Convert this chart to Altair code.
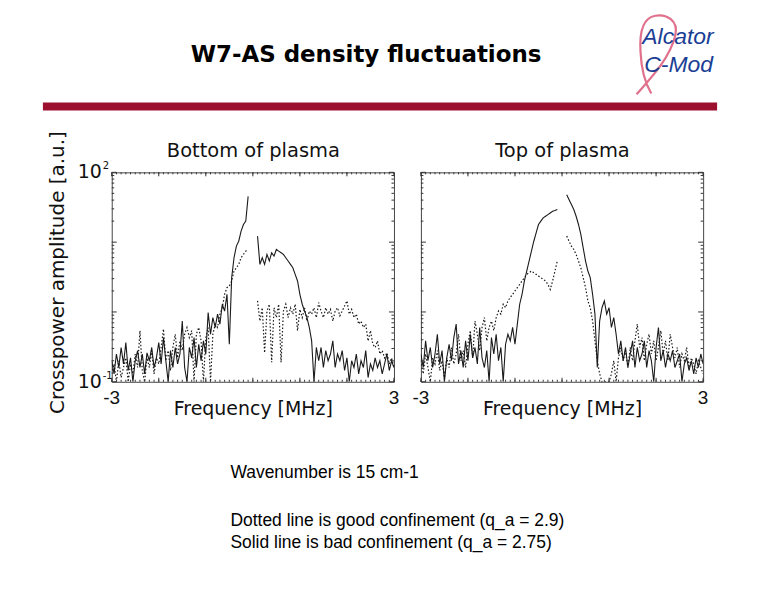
import altair as alt
import pandas as pd

# ---- data (amplitude, a.u.) ----
# frequency grid: -3 .. 3 MHz in 0.05 MHz steps, the central gap (|f| < 0.1) has no data
freq_neg = [round(-3 + 0.05 * i, 2) for i in range(59)]        # -3.00 .. -0.10
freq_pos = [round(0.1 + 0.05 * i, 2) for i in range(59)]       #  0.10 ..  3.00

# Bottom of plasma, solid line (bad confinement)
bottom_solid_neg = [
    0.20, 0.13, 0.25, 0.16, 0.31, 0.18, 0.365, 0.145, 0.22, 0.10,
    0.20, 0.28, 0.16, 0.25, 0.13, 0.26, 0.20, 0.31, 0.16, 0.22,
    0.365, 0.18, 0.43, 0.20, 0.10, 0.28, 0.16, 0.31, 0.18, 0.25,
    0.74, 0.16, 0.10, 0.31, 0.22, 0.43, 0.16, 0.345, 0.20, 0.385,
    0.25, 0.98, 0.48, 0.83, 0.60, 0.93, 0.67, 1.29, 1.03, 1.79,
    0.345, 3.1, 5.98, 8.77, 10.3, 14.4, 17.9, 20.0, 45.3]
bottom_solid_pos = [
    12.2, 4.8, 5.98, 4.8, 6.67, 5.36, 7.04, 6.31, 7.86, 7.44,
    7.04, 6.67, 5.98, 5.36, 4.8, 4.3, 3.46, 2.78, 1.79, 1.29,
    1.03, 0.83, 0.60, 0.385, 0.10, 0.31, 0.20, 0.31, 0.16, 0.28,
    0.20, 0.25, 0.385, 0.16, 0.25, 0.20, 0.28, 0.145, 0.22, 0.10,
    0.20, 0.16, 0.25, 0.13, 0.20, 0.16, 0.28, 0.115, 0.18, 0.145,
    0.22, 0.16, 0.20, 0.13, 0.18, 0.25, 0.145, 0.20, 0.16]

# Bottom of plasma, dotted line (good confinement)
bottom_dotted_neg = [
    0.13, 0.18, 0.10, 0.20, 0.115, 0.16, 0.22, 0.10, 0.18, 0.13,
    0.25, 0.16, 0.54, 0.145, 0.10, 0.22, 0.16, 0.28, 0.13, 0.22,
    0.18, 0.31, 0.57, 0.20, 0.28, 0.145, 0.31, 0.48, 0.22, 0.385,
    0.28, 0.48, 0.60, 0.43, 0.54, 0.10, 0.48, 0.60, 0.385, 0.10,
    0.43, 0.60, 0.10, 0.48, 0.67, 0.60, 0.93, 1.15, 1.79, 2.23,
    2.35, 2.78, 3.86, 4.3, 4.8, 5.98, 6.67, 7.44, 7.86]
bottom_dotted_pos = [
    1.44, 0.74, 1.15, 0.26, 1.03, 1.29, 0.19, 1.15, 0.83, 1.29,
    0.19, 1.03, 1.29, 0.83, 1.15, 0.93, 1.29, 0.54, 1.09, 0.83,
    1.15, 0.74, 1.03, 0.93, 1.15, 0.83, 1.36, 1.03, 0.83, 1.15,
    0.93, 1.09, 0.74, 1.03, 1.15, 0.88, 1.03, 1.22, 1.44, 0.93,
    1.09, 0.83, 0.93, 0.67, 0.74, 0.60, 0.67, 0.385, 0.54, 0.345,
    0.31, 0.385, 0.25, 0.28, 0.22, 0.26, 0.18, 0.22, 0.16]

# Top of plasma, solid line (bad confinement)
top_solid_neg = [
    0.25, 0.16, 0.385, 0.20, 0.31, 0.16, 0.25, 0.48, 0.18, 0.28,
    0.10, 0.22, 0.345, 0.20, 0.43, 0.67, 0.18, 0.28, 0.16, 0.385,
    0.20, 0.48, 0.22, 0.31, 0.18, 0.60, 0.22, 0.16, 0.28, 0.10,
    0.43, 0.25, 0.48, 0.20, 0.31, 0.10, 0.345, 0.48, 0.385, 0.60,
    0.345, 0.67, 1.29, 1.79, 2.78, 3.86, 5.36, 7.44, 10.3, 13.6,
    17.9, 20.0, 22.3, 23.5, 24.8, 26.2, 27.7, 28.3, 29.3]
top_solid_pos = [
    47.9, 40.6, 34.5, 29.3, 23.5, 17.9, 12.9, 8.3, 5.36, 3.86,
    3.1, 1.79, 0.93, 0.16, 0.74, 1.15, 1.44, 0.93, 1.15, 0.60,
    0.83, 0.48, 0.25, 0.385, 0.20, 0.31, 0.16, 0.25, 0.385, 0.16,
    0.31, 0.20, 0.25, 0.385, 0.16, 0.28, 0.20, 0.10, 0.31, 0.60,
    0.20, 0.28, 0.16, 0.25, 0.20, 0.28, 0.16, 0.20, 0.25, 0.10,
    0.18, 0.22, 0.145, 0.20, 0.13, 0.22, 0.16, 0.25, 0.18]

# Top of plasma, dotted line (good confinement)
top_dotted_neg = [
    0.20, 0.13, 0.25, 0.16, 0.10, 0.22, 0.18, 0.28, 0.145, 0.20,
    0.115, 0.22, 0.16, 0.31, 0.18, 0.25, 0.48, 0.20, 0.28, 0.16,
    0.345, 0.54, 0.22, 0.74, 0.48, 0.28, 0.60, 0.83, 0.385, 0.60,
    0.74, 0.54, 0.83, 1.03, 0.93, 1.29, 1.15, 1.44, 1.61, 1.79,
    2.0, 2.23, 2.49, 2.78, 3.1, 3.46, 3.65, 3.86, 3.65, 3.46,
    3.28, 3.1, 2.93, 2.78, 2.49, 2.1, 2.78, 3.86, 5.36]
top_dotted_pos = [
    12.2, 10.3, 8.77, 7.86, 6.67, 5.36, 4.3, 3.1, 2.23, 1.44,
    1.15, 0.74, 0.385, 0.20, 0.13, 0.10, 0.10, 0.10, 0.10, 0.13,
    0.20, 0.10, 0.22, 0.31, 0.20, 0.28, 0.16, 0.31, 0.20, 0.385,
    0.67, 0.31, 0.43, 0.20, 0.345, 0.48, 0.25, 0.385, 0.20, 0.31,
    0.54, 0.25, 0.385, 0.20, 0.48, 0.31, 0.22, 0.31, 0.16, 0.25,
    0.20, 0.31, 0.16, 0.22, 0.18, 0.13, 0.20, 0.16, 0.13]

# axis ticks / labels
x_major = [-3, -2, -1, 0, 1, 2, 3]
x_minor = [round(-3 + 0.1 * i, 1) for i in range(61)]
x_labels = [-3, 3]
x_label_text = ["-3", "3"]
y_major = [0.1, 1, 10, 100]
y_minor = [m * d for d in (0.1, 1, 10) for m in (2, 3, 4, 5, 6, 7, 8, 9)]
y_labels = [0.1, 100]
y_label_base = ["10", "10"]
y_label_exp = ["-1", "2"]


def frame(panel):
    rows = []
    series = {
        "Bottom": [("solid", bottom_solid_neg, bottom_solid_pos),
                   ("dotted", bottom_dotted_neg, bottom_dotted_pos)],
        "Top": [("solid", top_solid_neg, top_solid_pos),
                ("dotted", top_dotted_neg, top_dotted_pos)],
    }[panel]
    for name, neg, pos in series:
        for f, a in zip(freq_neg, neg):
            rows.append({"f": f, "amp": a, "style": name, "part": name + "-neg"})
        for f, a in zip(freq_pos, pos):
            rows.append({"f": f, "amp": a, "style": name, "part": name + "-pos"})
    return pd.DataFrame(rows)


W, H = 283, 210
XS = alt.Scale(domain=[-3, 3], nice=False, zero=False)
YS = alt.Scale(type="log", domain=[0.1, 100], nice=False)
INK = "#1a1a1a"
PANEL_FONT = "DejaVu Sans"


def X(field):
    return alt.X(field, type="quantitative", scale=XS, axis=None)


def Y(field):
    return alt.Y(field, type="quantitative", scale=YS, axis=None)


def one_text(text, x, y, **kw):
    return alt.Chart(pd.DataFrame({"t": [text]})).mark_text(**kw).encode(
        text="t:N", x=alt.value(x), y=alt.value(y))


def panel(name, title, with_y):
    df = frame(name)
    base = alt.Chart(df)
    solid = base.transform_filter("datum.style == 'solid'").mark_line(
        color=INK, strokeWidth=1.1, clip=True).encode(
        x=X("f"), y=Y("amp"), detail="part:N")
    dotted = base.transform_filter("datum.style == 'dotted'").mark_line(
        color=INK, strokeWidth=1.2, strokeDash=[1.5, 2], clip=True).encode(
        x=X("f"), y=Y("amp"), detail="part:N")

    tick_col = "#333"
    ymaj = alt.Chart(pd.DataFrame({"v": y_major}))
    ymin = alt.Chart(pd.DataFrame({"v": y_minor}))
    xmaj = alt.Chart(pd.DataFrame({"v": x_major}))
    xmin = alt.Chart(pd.DataFrame({"v": x_minor}))
    ticks = [
        ymaj.mark_rule(color=tick_col).encode(y=Y("v"), x=alt.value(0), x2=alt.value(5)),
        ymaj.mark_rule(color=tick_col).encode(y=Y("v"), x=alt.value(W - 5), x2=alt.value(W)),
        ymin.mark_rule(color=tick_col).encode(y=Y("v"), x=alt.value(0), x2=alt.value(2.5)),
        ymin.mark_rule(color=tick_col).encode(y=Y("v"), x=alt.value(W - 2.5), x2=alt.value(W)),
        xmaj.mark_rule(color=tick_col).encode(x=X("v"), y=alt.value(0), y2=alt.value(4)),
        xmaj.mark_rule(color=tick_col).encode(x=X("v"), y=alt.value(H - 4), y2=alt.value(H)),
        xmin.mark_rule(color=tick_col).encode(x=X("v"), y=alt.value(0), y2=alt.value(2)),
        xmin.mark_rule(color=tick_col).encode(x=X("v"), y=alt.value(H - 2), y2=alt.value(H)),
    ]
    xlab = alt.Chart(pd.DataFrame({"v": x_labels, "t": x_label_text})).mark_text(
        font="Liberation Sans", fontSize=19, align="center", baseline="middle",
        color="#111").encode(x=X("v"), y=alt.value(H + 16), text="t:N")

    layers = []
    if with_y:
        # invisible box covering the whole slide (page 8..755 x 8..582) so layout maps 1:1
        bg = alt.Chart(pd.DataFrame({"a": [0]})).mark_rect(opacity=0).encode(
            x=alt.value(-103), x2=alt.value(644), y=alt.value(-163), y2=alt.value(411))
        red_bar = alt.Chart(pd.DataFrame({"a": [0]})).mark_rect(color="#9c0f2e").encode(
            x=alt.value(-69), x2=alt.value(607), y=alt.value(-70), y2=alt.value(-62))
        ribbon = alt.Chart(pd.DataFrame({"a": [0]})).mark_point(
            shape="M-0.52,0.97 C-0.2,0.6 0.3,0.1 0.45,-0.5 C0.55,-0.9 0.2,-1.05 -0.05,-1 "
                  "C-0.35,-0.95 -0.45,-0.6 -0.42,-0.1 C-0.4,0.35 -0.3,0.7 -0.15,0.95",
            filled=False, stroke="#e0708c", strokeWidth=2.2, size=6400, opacity=1).encode(
            x=alt.value(547), y=alt.value(-117))
        slide = [
            bg, red_bar, ribbon,
            one_text("W7-AS density fluctuations", 255, -111, font="DejaVu Sans",
                     fontWeight="bold", fontSize=23, align="center", baseline="alphabetic",
                     color="#000"),
            one_text("Alcator", 532, -129, font="Liberation Sans", fontStyle="italic",
                     fontSize=23, align="left", baseline="alphabetic", color="#1c3f95"),
            one_text("C-Mod", 534, -101, font="Liberation Sans", fontStyle="italic",
                     fontSize=23, align="left", baseline="alphabetic", color="#1c3f95"),
            one_text("Wavenumber is 15 cm-1", 119, 306.7, font="Liberation Sans",
                     fontSize=17.5, align="left", baseline="alphabetic", color="#000"),
            one_text("Dotted line is good confinement (q_a = 2.9)", 119, 355, font="Liberation Sans",
                     fontSize=17.5, align="left", baseline="alphabetic", color="#000"),
            one_text("Solid line is bad confinement (q_a = 2.75)", 119, 376.7, font="Liberation Sans",
                     fontSize=17.5, align="left", baseline="alphabetic", color="#000"),
            one_text("Crosspower amplitude [a.u.]", -54, 100.5, font=PANEL_FONT, fontSize=20,
                     angle=270, align="center", baseline="middle", color="#111"),
        ]
        lab = pd.DataFrame({"v": y_labels, "b": y_label_base, "e": y_label_exp})
        ylab = [
            alt.Chart(lab).mark_text(font=PANEL_FONT, fontSize=19, align="right",
                                     baseline="middle", color="#111").encode(
                y=Y("v"), x=alt.value(-10), text="b:N"),
            alt.Chart(lab).mark_text(font=PANEL_FONT, fontSize=10, align="left",
                                     baseline="middle", dy=-6, color="#111").encode(
                y=Y("v"), x=alt.value(-9), text="e:N"),
        ]
        layers += slide + ylab
    layers += [
        one_text(title, 142, -21, font=PANEL_FONT, fontSize=19.5, align="center",
                 baseline="middle", color="#111"),
        one_text("Frequency [MHz]", 142, 237, font=PANEL_FONT, fontSize=19,
                 align="center", baseline="middle", color="#111"),
    ]
    layers += [solid, dotted, xlab] + ticks
    return alt.layer(*layers).properties(width=W, height=H)


left = panel("Bottom", "Bottom of plasma", True)
right = panel("Top", "Top of plasma", False)

chart = alt.hconcat(left, right, spacing=27, bounds="flush").properties(
    padding=0, background="white"
).configure_view(stroke="#444", strokeWidth=1)

chart.save("out.html", embed_options={"renderer": "svg", "actions": False})
